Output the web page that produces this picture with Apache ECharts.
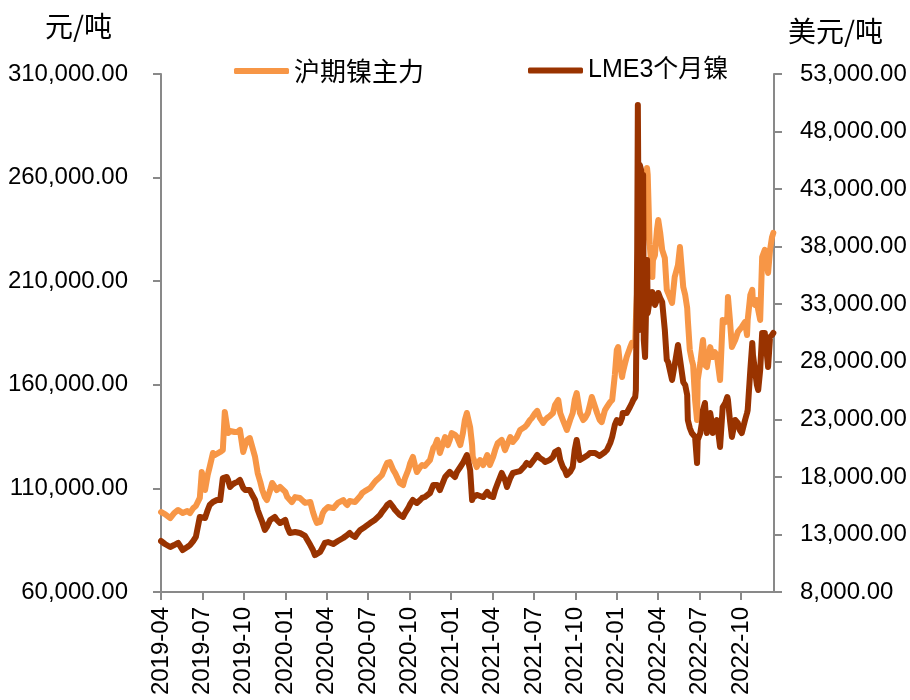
<!DOCTYPE html>
<html>
<head>
<meta charset="utf-8">
<script src="https://cdn.jsdelivr.net/npm/echarts@6/dist/echarts.min.js"></script>
<style>html,body{margin:0;padding:0;background:#fff}#c{width:910px;height:700px}</style>
</head>
<body>
<div id="c"></div>
<script>
// x axis: trading-day sequence, one label every 63 trading days
const xTickLabels = ['2019-04','2019-07','2019-10','2020-01','2020-04','2020-07','2020-10','2021-01','2021-04','2021-07','2021-10','2022-01','2022-04','2022-07','2022-10'];
const xTickStep = 63;
const xLastDay = 932;

const tradingDay = [
0,6,14,20,26,33,40,44,49,53,
59,62,67,71,74,79,82,85,90,94,
97,100,102,105,108,112,116,120,125,128,
131,135,138,143,147,151,154,158,161,166,
169,173,176,181,184,189,192,196,199,204,
207,211,219,227,231,234,237,242,246,249,
254,257,262,265,269,272,277,280,283,287,
290,295,298,303,306,310,313,318,321,325,
328,333,336,341,344,348,353,356,359,363,
368,371,376,379,383,386,389,394,397,401,
404,409,414,417,420,424,429,432,436,439,
442,447,450,455,459,462,465,470,473,474,
480,485,490,496,500,505,508,512,518,523,
526,531,535,541,546,549,553,556,561,564,
569,572,573,576,581,584,587,591,596,599,
604,607,611,614,617,619,622,626,629,632,
637,642,645,649,652,655,660,663,667,670,
675,678,683,686,690,693,695,698,701,702,
705,708,713,716,718,721,722,724,725,727,
728,730,731,733,734,736,739,740,743,747,
748,751,754,756,759,762,766,769,771,774,
777,781,786,789,794,797,800,801,804,807,
809,812,815,816,820,823,824,827,830,835,
838,839,842,845,850,854,858,861,862,865,
868,873,877,880,883,888,891,892,896,899,
900,903,906,908,911,914,918,923,926,929,
931
];

// 沪期镍主力 (元/吨)
const shfeNickel = [
98600,97600,95700,98100,99600,98100,99100,98100,100500,101500,
105400,117900,109200,116500,120300,127100,126100,125200,127600,128500,
146900,140600,136700,137700,138200,137200,137200,138200,127600,130900,
133400,134300,134300,125200,117400,113100,109200,105800,104400,109200,
112600,110700,109200,110700,111600,108300,105800,104400,103400,105800,
105800,105400,103000,103400,98600,95700,93300,93800,98100,99600,
101000,100500,100500,101500,103000,103400,104400,103000,102000,103900,
104400,103400,103400,106300,107800,108700,109200,110200,110700,113100,
114100,115500,116500,120300,122300,122700,118900,117400,116500,112600,
111600,115000,118900,122300,125200,121300,117900,120300,121300,120800,
120300,123700,129500,130900,133400,127100,131900,134800,130900,133400,
136700,135800,134800,130900,136700,143000,146400,139600,130900,125200,
120300,123700,121300,126100,121300,125200,128500,131900,133400,128500,
130900,134800,132400,134800,138200,139100,139600,140600,143000,144000,
146400,147400,147800,144000,141600,143000,144000,144900,146400,150200,
152700,146400,143000,140600,138200,139100,143000,146400,152700,156000,
146400,143000,144000,146400,150200,154100,149300,146400,143000,142000,
147800,149300,151700,152700,164700,176800,178200,169600,163800,165700,
169600,173400,177800,180200,179200,180700,191300,205800,219300,221200,
222600,224100,225100,227500,232300,241900,264600,261300,227500,212000,
220200,222600,234700,239500,233300,225100,221200,205800,204300,201900,
199500,212000,217800,226500,207200,203300,197100,191300,176800,172000,
169600,152700,143000,162300,170500,179200,181600,169600,168600,178200,
174400,173400,175800,174400,162300,191300,190300,192700,202400,191300,
178200,181600,185500,185000,187900,190300,184000,191300,203300,205800,
199500,198500,200900,196100,191300,221700,225100,214000,225100,231300,
233300
];

// LME3个月镍 (美元/吨)
const lmeNickel = [
12430,12170,11910,12080,12260,11650,11910,12080,12430,12780,
14520,14600,14430,15120,15560,15820,15990,15990,15990,17900,
17990,17990,17730,17120,17300,17470,17560,17730,17040,16860,
16860,16860,16510,15990,15120,14520,14080,13390,13650,14260,
14430,14520,14260,13990,14080,14260,13650,13130,13130,13210,
13210,13130,12870,12080,11650,11210,11300,11480,11910,12260,
12340,12340,12170,12080,12430,12520,12690,12780,12950,13130,
12950,12780,13040,13390,13470,13650,13820,13990,14080,14260,
14430,14690,14950,15300,15560,15730,15380,15120,14950,14690,
14520,14860,15300,15650,15990,15820,15730,15990,16170,16250,
16340,16600,17300,17470,17300,16860,17560,17990,18250,18430,
18250,17990,18430,18860,19210,19290,19900,18600,15990,16170,
16430,16340,16250,16690,16340,16250,16860,17470,18340,17730,
17120,17900,18340,18430,18510,18600,18950,19210,19030,18860,
19640,19900,19730,19640,19470,19290,19210,19470,19730,20160,
20340,19470,18860,18600,18160,17990,18430,18860,20340,21210,
19470,19640,19730,19900,20080,20080,20080,20080,19820,19730,
20160,20340,20940,21470,22510,22940,22770,22680,23120,23550,
23550,23550,24070,24420,24680,24940,25550,37710,50310,30760,
45100,44660,33370,44230,29890,28420,36840,32240,33370,34060,
33800,32930,33370,33980,33540,33190,30760,28160,27980,27980,
26420,27720,29460,29630,26240,25980,25110,22940,22250,21810,
21730,21470,19210,21210,21810,22940,23810,24420,21810,23550,
22510,21810,22510,22940,20600,24070,24420,24940,24680,22940,
21470,22940,22680,22070,21810,22940,23550,23810,27290,29630,
28590,27290,25980,25550,27290,30500,30500,27550,30150,30330,
30500
];

const leftTicks = [60000,110000,160000,210000,260000,310000];
const rightTicks = [8000,13000,18000,23000,28000,33000,38000,43000,48000,53000];

const latin = "'Liberation Sans', 'Noto Sans CJK SC', sans-serif";
const cjk = "'Noto Sans CJK SC', 'Liberation Sans', sans-serif";
const axisColor = '#898989';
const fmt = v => Number(v).toLocaleString('en-US', {minimumFractionDigits: 2, maximumFractionDigits: 2});
const xTickValues = xTickLabels.map((_, i) => i * xTickStep);

const chart = echarts.init(document.getElementById('c'), null, {renderer: 'canvas'});
chart.setOption({
  animation: false,
  backgroundColor: '#fff',
  grid: {left: 161, right: 136, top: 74, bottom: 108, containLabel: false},
  graphic: [
    {type: 'text', left: 45, top: 12, style: {text: '元/吨', fontSize: 28, fontFamily: cjk, fill: '#000'}},
    {type: 'text', left: 788, top: 17, style: {text: '美元/吨', fontSize: 28, fontFamily: cjk, fill: '#000'}}
  ],
  legend: [
    {data: ['沪期镍主力'], left: 229, top: 53, icon: 'roundRect', itemWidth: 55, itemHeight: 6, selectedMode: false,
     textStyle: {fontSize: 26, fontFamily: cjk, color: '#000'}},
    {data: ['LME3个月镍'], left: 523, top: 53, icon: 'roundRect', itemWidth: 55, itemHeight: 6, selectedMode: false,
     textStyle: {fontSize: 25, fontFamily: latin, color: '#000'}}
  ],
  xAxis: {
    type: 'value', min: 0, max: xLastDay,
    axisLine: {show: true, onZero: false, lineStyle: {color: axisColor, width: 2}},
    axisTick: {show: true, length: 8, customValues: xTickValues, lineStyle: {color: axisColor, width: 2}},
    axisLabel: {customValues: xTickValues, rotate: 90, margin: 15, fontSize: 24, fontFamily: latin, color: '#000',
      formatter: v => { const i = Math.round(v / xTickStep); return xTickLabels[i] || ''; }},
    splitLine: {show: false}
  },
  yAxis: [
    {type: 'value', position: 'left', min: 60000, max: 310000,
     axisLine: {show: true, lineStyle: {color: axisColor, width: 2}},
     axisTick: {show: true, length: 8, customValues: leftTicks, lineStyle: {color: axisColor, width: 2}},
     axisLabel: {customValues: leftTicks, margin: 33, fontSize: 24, fontFamily: latin, color: '#000', formatter: fmt},
     splitLine: {show: false}},
    {type: 'value', position: 'right', min: 8000, max: 53000,
     axisLine: {show: true, lineStyle: {color: axisColor, width: 2}},
     axisTick: {show: true, length: 8, customValues: rightTicks, lineStyle: {color: axisColor, width: 2}},
     axisLabel: {customValues: rightTicks, margin: 26, fontSize: 24, fontFamily: latin, color: '#000', formatter: fmt},
     splitLine: {show: false}}
  ],
  series: [
    {name: '沪期镍主力', type: 'line', yAxisIndex: 0, showSymbol: false, symbol: 'none', z: 2,
     data: tradingDay.map((d, i) => [d, shfeNickel[i]]),
     itemStyle: {color: '#F79646'},
     lineStyle: {color: '#F79646', width: 6, cap: 'round', join: 'round'}},
    {name: 'LME3个月镍', type: 'line', yAxisIndex: 1, showSymbol: false, symbol: 'none', z: 3,
     data: tradingDay.map((d, i) => [d, lmeNickel[i]]),
     itemStyle: {color: '#993300'},
     lineStyle: {color: '#993300', width: 6, cap: 'round', join: 'round'}}
  ]
});
</script>
</body>
</html>
